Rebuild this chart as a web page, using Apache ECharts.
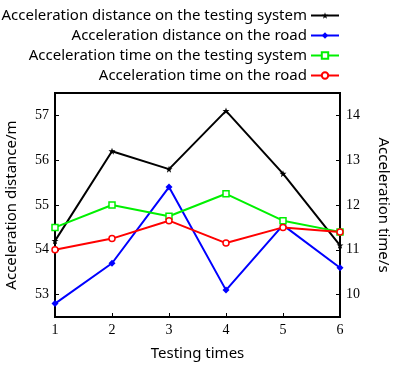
<!DOCTYPE html>
<html>
<head>
<meta charset="utf-8">
<script src="https://cdn.jsdelivr.net/npm/echarts@6/dist/echarts.min.js"></script>
<style>
  html, body { margin: 0; padding: 0; background: #fff; }
  #chart { width: 393px; height: 366px; }
</style>
</head>
<body>
<div id="chart"></div>
<script>
// x categories
const testingTimes = ['1', '2', '3', '4', '5', '6'];
// distance (m), left axis
const distTestingSystem = [54.2, 56.2, 55.8, 57.1, 55.7, 54.1];
const distRoad = [52.8, 53.7, 55.4, 53.1, 54.55, 53.6];
// time (s), right axis
const timeTestingSystem = [11.5, 12.0, 11.75, 12.25, 11.65, 11.4];
const timeRoad = [11.0, 11.25, 11.65, 11.15, 11.5, 11.4];
// tick labels
const distTicks = [53, 54, 55, 56, 57];
const timeTicks = [10, 11, 12, 13, 14];

const sansFont = 'Noto Sans';
const serifFont = 'Liberation Serif';

const chart = echarts.init(document.getElementById('chart'));

function lineSeries(name, data, color, symbol, yIndex, hollow) {
  return {
    name: name,
    type: 'line',
    yAxisIndex: yIndex,
    data: data,
    symbol: symbol,
    symbolSize: hollow ? 6 : 7,
    showSymbol: true,
    lineStyle: { color: color, width: 2 },
    itemStyle: {
      color: hollow ? '#fff' : color,
      borderColor: color,
      borderWidth: hollow ? 1.5 : 0
    },
    animation: false
  };
}

function valueAxis(name, min, max, ticks, rotate) {
  return {
    type: 'value',
    min: min, max: max,
    name: name,
    nameLocation: 'middle',
    nameGap: 36,
    nameRotate: rotate,
    nameTextStyle: { fontFamily: sansFont, fontSize: 15, color: '#000' },
    axisLine: { show: true, lineStyle: { color: '#000', width: 2 } },
    axisTick: { show: true, inside: true, length: 4, customValues: ticks, lineStyle: { color: '#000' } },
    axisLabel: { fontFamily: serifFont, fontSize: 14, color: '#000', margin: 6, customValues: ticks },
    splitLine: { show: false }
  };
}

const option = {
  backgroundColor: '#fff',
  legend: {
    orient: 'vertical',
    align: 'right',
    right: 53,
    top: 8,
    padding: 0,
    itemGap: 5,
    itemWidth: 28,
    itemHeight: 8,
    textStyle: { fontFamily: sansFont, fontSize: 15, color: '#000', padding: [0, -1, 0, 0] },
    data: [
      'Acceleration distance on the testing system',
      'Acceleration distance on the road',
      'Acceleration time on the testing system',
      'Acceleration time on the road'
    ]
  },
  grid: {
    left: 55, right: 53, top: 93, bottom: 49,
    outerBoundsMode: 'none',
    show: true, borderColor: '#000', borderWidth: 2
  },
  xAxis: {
    type: 'category',
    data: testingTimes,
    boundaryGap: false,
    name: 'Testing times',
    nameLocation: 'middle',
    nameGap: 29,
    nameTextStyle: { fontFamily: sansFont, fontSize: 15, color: '#000' },
    axisLine: { lineStyle: { color: '#000', width: 2 } },
    axisTick: { inside: true, length: 4, lineStyle: { color: '#000' } },
    axisLabel: { fontFamily: serifFont, fontSize: 14, color: '#000', margin: 6 },
    splitLine: { show: false }
  },
  yAxis: [
    valueAxis('Acceleration distance/m', 52.5, 57.5, distTicks, 90),
    valueAxis('Acceleration time/s', 9.5, 14.5, timeTicks, -90)
  ],
  series: [
    lineSeries('Acceleration distance on the testing system', distTestingSystem, '#000000', 'path://M0,-10 L2.5,-3 L10,-3 L4,1.5 L6,9 L0,4.5 L-6,9 L-4,1.5 L-10,-3 L-2.5,-3 Z', 0, false),
    lineSeries('Acceleration distance on the road', distRoad, '#0000ff', 'diamond', 0, false),
    lineSeries('Acceleration time on the testing system', timeTestingSystem, '#00f000', 'rect', 1, true),
    lineSeries('Acceleration time on the road', timeRoad, '#ff0000', 'circle', 1, true)
  ]
};

chart.setOption(option);
</script>
</body>
</html>
